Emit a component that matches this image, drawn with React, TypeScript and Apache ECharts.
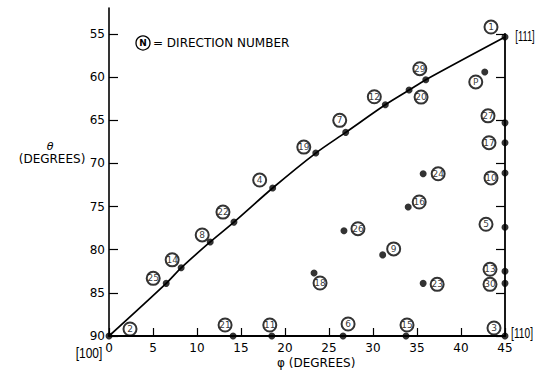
import React, { useEffect, useRef } from "react";
import * as echarts from "echarts";

// Tick values
const xTickValues = [0, 5, 10, 15, 20, 25, 30, 35, 40, 45];
const yTickValues = [55, 60, 65, 70, 75, 80, 85, 90];

// Boundary curve [100] -> [111] (through the dots on it)
const curvePhi = [0, 6.5, 8.2, 11.5, 14.2, 18.6, 23.5, 26.9, 31.4, 34.1, 36.0, 45];
const curveTheta = [90, 83.9, 82.1, 79.1, 76.8, 72.85, 68.8, 66.4, 63.2, 61.5, 60.3, 55.35];

// Direction numbers and their (phi, theta) in degrees
const dirNames = ["1", "2", "3", "4", "5", "6", "7", "8", "9", "10", "11", "12", "13", "14", "15", "16", "17", "18", "19", "20", "21", "22", "23", "24", "25", "26", "27", "29", "30", "P"];
const dirPhi = [45, 0, 45, 18.6, 45, 26.6, 26.9, 11.5, 31.1, 45, 18.5, 31.4, 45, 8.2, 33.75, 34.0, 45, 23.3, 23.5, 34.1, 14.1, 14.2, 35.7, 35.7, 6.5, 26.7, 45, 36.0, 45, 42.7];
const dirTheta = [55.35, 90, 90, 72.85, 77.4, 90, 66.4, 79.1, 80.6, 71.1, 90, 63.2, 82.5, 82.1, 90, 75.05, 67.6, 82.7, 68.8, 61.5, 90, 76.8, 83.9, 71.2, 83.9, 77.8, 65.3, 60.3, 83.9, 59.4];
// label offsets of the circled numbers (px, relative to the dot)
const labelDx = [-14, 21, -11, -13, -19, 5, -6, -8, 11, -14, -2, -11, -15, -9, 1, 11, -16, 6, -12, 12, -8, -11, 14, 15, -13, 14, -17, -6, -15, -9];
const labelDy = [-10, -7, -8, -8, -3, -12, -12, -7, -6, 5, -11, -8, -2, -8, -11, -5, 0, 10, -6, 7, -11, -10, 1, 0, -5, -2, -7, -11, 1, 10];

const FONT = "DejaVu Sans";

function buildOption(): any {
  const curveData = curvePhi.map((p, i) => [p, curveTheta[i]]);
  const pointData = dirNames.map((n, i) => ({
    name: n,
    value: [dirPhi[i], dirTheta[i]],
    label: { offset: [labelDx[i], labelDy[i]] },
  }));

  const gridBase = { left: 109, right: 31, bottom: 37, outerBoundsMode: "none", containLabel: false };

  return {
    animation: false,
    backgroundColor: "#fff",
    grid: [
      { ...gridBase, top: 8 },
      { ...gridBase, top: 34 },
    ],
    xAxis: [
      { gridIndex: 0, type: "value", min: 0, max: 45, show: false },
      {
        gridIndex: 1,
        type: "value",
        min: 0,
        max: 45,
        interval: 5,
        position: "bottom",
        axisLine: { show: true, onZero: false, lineStyle: { color: "#000", width: 1.8 } },
        axisTick: { show: true, inside: true, length: 8, lineStyle: { color: "#000", width: 1.2 } },
        axisLabel: {
          show: true,
          margin: 6,
          color: "#000",
          fontSize: 12,
          fontFamily: FONT,
          customValues: xTickValues,
        },
        splitLine: { show: false },
      },
    ],
    yAxis: [
      {
        gridIndex: 0,
        type: "value",
        inverse: true,
        min: 52,
        max: 90,
        axisLine: { show: true, onZero: false, lineStyle: { color: "#000", width: 1.6 } },
        axisTick: { show: false },
        axisLabel: { show: false },
        splitLine: { show: false },
      },
      {
        gridIndex: 1,
        type: "value",
        inverse: true,
        min: 55,
        max: 90,
        interval: 5,
        position: "left",
        axisLine: { show: false },
        axisTick: { show: true, inside: true, length: 9, lineStyle: { color: "#000", width: 1.2 } },
        axisLabel: {
          show: true,
          margin: 4,
          color: "#000",
          fontSize: 12,
          fontFamily: FONT,
          customValues: yTickValues,
        },
        splitLine: { show: false },
      },
      {
        gridIndex: 1,
        type: "value",
        inverse: true,
        min: 55,
        max: 90,
        interval: 5,
        position: "right",
        axisLine: { show: true, onZero: false, lineStyle: { color: "#000", width: 1.8 } },
        axisTick: { show: true, inside: true, length: 9, lineStyle: { color: "#000", width: 1.2 } },
        axisLabel: { show: false },
        splitLine: { show: false },
      },
    ],
    series: [
      {
        type: "line",
        xAxisIndex: 1,
        yAxisIndex: 1,
        data: curveData,
        smooth: 0.3,
        symbol: "none",
        clip: false,
        lineStyle: { color: "#000", width: 1.7 },
        silent: true,
      },
      {
        type: "scatter",
        xAxisIndex: 1,
        yAxisIndex: 1,
        data: pointData,
        symbol: "circle",
        symbolSize: 7,
        clip: false,
        itemStyle: { color: "#000" },
        label: {
          show: true,
          position: "inside",
          formatter: (p: any) => "{c|" + p.name + "}",
          rich: {
            c: {
              width: 13,
              height: 13,
              lineHeight: 13,
              align: "center",
              verticalAlign: "middle",
              borderRadius: 6.5,
              borderColor: "#000",
              borderWidth: 1,
              color: "#000",
              fontSize: 9,
              fontFamily: FONT,
              backgroundColor: "transparent",
            },
          },
        },
      },
    ],
    graphic: [
      // legend
      { type: "circle", shape: { cx: 143, cy: 43, r: 7 }, style: { fill: "none", stroke: "#000", lineWidth: 1.3 } },
      { type: "text", x: 143, y: 43, style: { text: "N", fontSize: 9, fontWeight: "bold", fontFamily: FONT, fill: "#000", align: "center", verticalAlign: "middle" } },
      { type: "text", x: 153, y: 43, style: { text: "= DIRECTION NUMBER", fontSize: 12, fontFamily: FONT, fill: "#000", align: "left", verticalAlign: "middle" } },
      // y axis title
      { type: "text", x: 50, y: 146, style: { text: "θ", fontSize: 11, fontStyle: "italic", fontFamily: FONT, fill: "#000", align: "center", verticalAlign: "middle" } },
      { type: "text", x: 52, y: 159, style: { text: "(DEGREES)", fontSize: 12, fontFamily: FONT, fill: "#000", align: "center", verticalAlign: "middle" } },
      // x axis title
      { type: "text", x: 277, y: 363, style: { text: "φ (DEGREES)", fontSize: 12, fontFamily: FONT, fill: "#000", align: "left", verticalAlign: "middle" } },
      // pole labels
      { type: "text", x: 89, y: 353, scaleX: 0.8, style: { text: "[100]", fontSize: 15, fontFamily: "Liberation Sans", fill: "#000", align: "center", verticalAlign: "middle" } },
      { type: "text", x: 522, y: 333, scaleX: 0.68, style: { text: "[110]", fontSize: 15, fontFamily: "Liberation Sans", fill: "#000", align: "center", verticalAlign: "middle" } },
      { type: "text", x: 525, y: 36, scaleX: 0.62, style: { text: "[111]", fontSize: 15, fontFamily: "Liberation Sans", fill: "#000", align: "center", verticalAlign: "middle" } },
    ],
  };
}

export default function App() {
  const ref = useRef<HTMLDivElement>(null);
  useEffect(() => {
    if (!ref.current) return;
    const chart = echarts.init(ref.current, null, { renderer: "svg" });
    chart.setOption(buildOption());
    return () => chart.dispose();
  }, []);
  return (
    <div
      ref={ref}
      style={{ position: "absolute", left: 0, top: 0, width: 536, height: 373, background: "#fff" }}
    />
  );
}
